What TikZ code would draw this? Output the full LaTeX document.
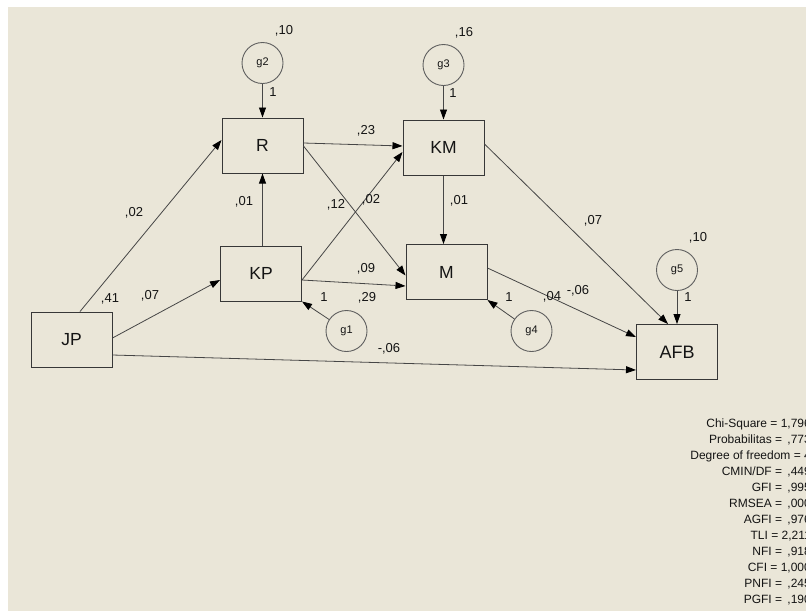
\documentclass[tikz,border=0pt]{standalone}
\usepackage{fontspec}
\setmainfont{Liberation Sans}
\usetikzlibrary{arrows.meta,calc}
\definecolor{paper}{RGB}{234,230,216}
\definecolor{boxline}{RGB}{55,55,55}
\definecolor{pathline}{RGB}{70,70,70}
\definecolor{errline}{RGB}{95,95,95}
\definecolor{ink}{RGB}{20,20,20}
\tikzset{
  obs/.style={draw=boxline, line width=1pt, minimum width=81pt, minimum height=55pt,
    inner sep=0pt, font=\fontsize{17.5}{17.5}\selectfont, text=ink},
  err/.style={circle, draw=errline, line width=0.9pt, minimum size=41pt, inner sep=0pt,
    font=\fontsize{11}{11}\selectfont, text=ink},
  lab/.style={inner sep=0pt, text depth=0pt, font=\fontsize{13}{13}\selectfont, text=ink},
  fit/.style={inner sep=0pt, anchor=east, font=\fontsize{12}{12}\selectfont, text=ink},
  path/.style={draw=pathline, line width=0.8pt, -{Triangle[length=10pt,width=7pt,black]}},
}
\begin{document}
\begin{tikzpicture}[x=1pt,y=-1pt]
\useasboundingbox (0,0) rectangle (806,611);
\fill[white] (0,0) rectangle (806,611);
\fill[paper] (8,7) rectangle (806,611);

% observed variables
\node[obs] (R)   at (262.5,145.5) {R};
\node[obs] (KM)  at (443.5,147.5) {KM};
\node[obs] (KP)  at (261,273.5)   {KP};
\node[obs] (M)   at (446.5,272)   {M};
\node[obs] (JP)  at (71.5,339.5)  {JP};
\node[obs, font=\fontsize{18}{18}\selectfont] (AFB) at (677,352) {AFB};

% error terms
\node[err] (g2) at (262.5,63)  {g2};
\node[err] (g3) at (443.5,65)  {g3};
\node[err] (g5) at (677,270)   {g5};
\node[err] (g1) at (346.5,331) {g1};
\node[err] (g4) at (531.5,331) {g4};

% error paths
\draw[path] (g2.south) -- (R.north);
\draw[path] (g3.south) -- (KM.north);
\draw[path] (g5.south) -- (AFB.north);
\draw[path] (g1) -- (KP.south east);
\draw[path] (g4) -- (M.south east);

% structural paths
\draw[path] ($(JP.north)+(8.5,0)$) -- ($(R.west)+(0,-5.5)$);
\draw[path] ($(JP.east)+(0,-1.5)$) -- ($(KP.west)+(0,6.5)$);
\draw[path] ($(JP.east)+(0,15.5)$) -- ($(AFB.west)+(0,18)$);
\draw[path] (KP.north -| R.south) -- (R.south);
\draw[path] ($(R.east)+(0,-2.5)$) -- ($(KM.west)+(0,-1.5)$);
\draw[path] ($(R.east)+(0,0.5)$) -- ($(M.west)+(0,3.5)$);
\draw[path] ($(KP.east)+(0,6.5)$) -- ($(KM.west)+(0,4.5)$);
\draw[path] ($(KP.east)+(0,6.5)$) -- ($(M.west)+(0,14)$);
\draw[path] (KM.south) -- (KM.south |- M.north);
\draw[path] ($(KM.east)+(0,-3.5)$) -- ($(AFB.north)+(-9,0)$);
\draw[path] ($(M.east)+(0,-4)$) -- ($(AFB.west)+(0,-15)$);

% variances and fixed loadings
\node[lab] (vg2) at (284,30)  {,10};
\node[lab] (vg3) at (464,32)  {,16};
\node[lab] (vg5) at (698,237) {,10};
\node[lab] (lg2) at (273,92)  {1};
\node[lab] (lg3) at (453,93)  {1};
\node[lab] (lg5) at (688,297) {1};
\node[lab] (lg1) at (324,297) {1};
\node[lab] (lg4) at (509,297) {1};

% path estimates
\node[lab] (e1)  at (134,212) {,02};
\node[lab] (e2)  at (110,298) {,41};
\node[lab] (e3)  at (150,295) {,07};
\node[lab] (e4)  at (244,201) {,01};
\node[lab] (e5)  at (366,130) {,23};
\node[lab] (e6)  at (336,204) {,12};
\node[lab] (e7)  at (371,199) {,02};
\node[lab] (e8)  at (459,200) {,01};
\node[lab] (e9)  at (366,268) {,09};
\node[lab] (e10) at (367,297) {,29};
\node[lab] (e11) at (552,296) {,04};
\node[lab] (e12) at (578,290) {-,06};
\node[lab] (e13) at (389,348) {-,06};
\node[lab] (e14) at (593,220) {,07};

% fit indices, running past the right edge of the sheet
\begin{scope}
\clip (8,7) rectangle (806,611);
\node[fit] (f1)  at (811,424) {Chi-Square = 1,796};
\node[fit] (f2)  at (811,440) {Probabilitas = \,,773};
\node[fit] (f3)  at (811,456) {Degree of freedom = 4};
\node[fit] (f4)  at (811,472) {CMIN/DF = \,,449};
\node[fit] (f5)  at (811,488) {GFI = \,,995};
\node[fit] (f6)  at (811,504) {RMSEA = \,,000};
\node[fit] (f7)  at (811,520) {AGFI = \,,976};
\node[fit] (f8)  at (811,536) {TLI = 2,211};
\node[fit] (f9)  at (811,552) {NFI = \,,918};
\node[fit] (f10) at (811,568) {CFI = 1,000};
\node[fit] (f11) at (811,584) {PNFI = \,,245};
\node[fit] (f12) at (811,600) {PGFI = \,,190};
\end{scope}
\end{tikzpicture}
\end{document}
